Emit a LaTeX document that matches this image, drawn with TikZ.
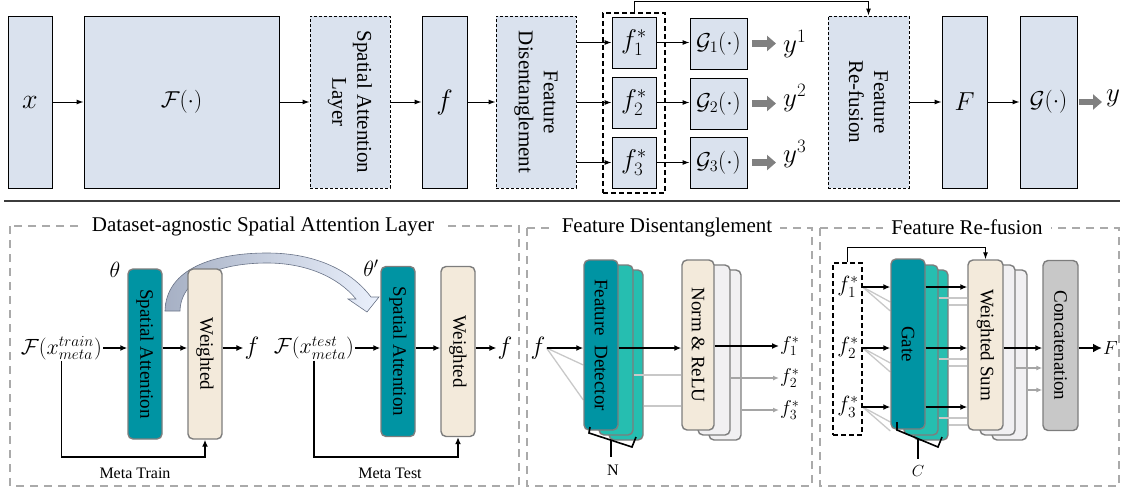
\documentclass[tikz,border=0pt]{standalone}
\usepackage{fix-cm}
\usepackage{fontspec}
\setmainfont{Liberation Serif}
\usetikzlibrary{arrows.meta,calc}
\definecolor{topfill}{RGB}{218,226,238}
\definecolor{tealc}{RGB}{0,148,163}
\definecolor{turq}{RGB}{38,190,176}
\definecolor{beige}{RGB}{243,234,219}
\definecolor{ltgray}{RGB}{241,240,242}
\definecolor{cgray}{RGB}{200,200,200}
\definecolor{boxgray}{RGB}{125,125,125}
\definecolor{panelgray}{RGB}{170,170,170}
\definecolor{lineg}{RGB}{200,200,200}
\definecolor{garrc}{RGB}{165,165,165}
\definecolor{fatgray}{RGB}{128,128,128}
\definecolor{arcL}{RGB}{166,176,196}
\definecolor{arcR}{RGB}{234,240,252}
\definecolor{arcB}{RGB}{105,115,135}
\definecolor{sepc}{RGB}{60,60,60}
\pgfdeclarelayer{bg}
\pgfsetlayers{bg,main}
\begin{document}
\begin{tikzpicture}[x=1pt,y=-1pt,
 tbox/.style={draw=black, line width=0.9pt, fill=topfill, inner sep=0pt},
 tdash/.style={tbox, dash pattern=on 3pt off 2pt},
 arr/.style={-{Latex[length=7pt,width=5pt]}, line width=1pt},
 fat/.style={-{Triangle[length=9pt,width=15pt]}, line width=6.5pt, draw=fatgray},
 rbox/.style={draw=boxgray, line width=1.4pt, rounded corners=5pt, inner sep=0pt, minimum width=34pt, minimum height=170pt},
 panel/.style={draw=panelgray, line width=1.4pt, dash pattern=on 8pt off 6pt},
 ptitle/.style={fill=white, inner xsep=8pt, inner ysep=2pt, font=\fontsize{21}{25}\selectfont},
 barr/.style={-{Latex[length=7pt,width=6pt]}, line width=1.5pt},
 gline/.style={draw=lineg, line width=1.3pt},
 garr/.style={-{Latex[length=6pt,width=5pt]}, draw=garrc, line width=1.3pt},
 ttxt/.style={font=\fontsize{21}{25}\selectfont, align=center, rotate=-90},
 btxt/.style={font=\fontsize{19}{22}\selectfont, rotate=-90},
 tm/.style={font=\fontsize{23}{27}\selectfont},
 tl/.style={font=\fontsize{28}{32}\selectfont},
 bm/.style={font=\fontsize{22}{26}\selectfont, inner sep=1pt},
 om/.style={font=\fontsize{20}{24}\selectfont, inner sep=0pt},
 bl/.style={font=\fontsize{25}{29}\selectfont, inner sep=1pt},
 small/.style={font=\fontsize{16}{19}\selectfont},
 brk/.style={line width=1.6pt, draw=black},
]
\useasboundingbox (0,0) rectangle (1124,490);

% ---------------- top row ----------------
\node[tbox, minimum width=44pt, minimum height=172pt, tl] (xb) at (30,102) {$x$};
\node[tbox, minimum width=195pt, minimum height=172pt, tm] (Fb) at (181.5,102) {$\mathcal{F}(\cdot)$};
\node[tdash, minimum width=80pt, minimum height=172pt] (SAL) at (350,102) {};
\node[ttxt] (SALt) at (SAL) {Spatial Attention\\Layer};
\node[tbox, minimum width=45pt, minimum height=172pt, tl] (fb) at (444.5,102) {$f$};
\node[tdash, minimum width=80pt, minimum height=172pt] (FDt) at (536,102) {};
\node[ttxt] (FDtt) at (FDt) {Feature\\Disentanglement};
\node[draw, line width=1.2pt, dash pattern=on 5pt off 3pt, minimum width=62pt, minimum height=180pt, inner sep=0pt] (grp) at (634,103) {};
\node[tbox, minimum width=44pt, minimum height=51pt, font=\fontsize{27}{31}\selectfont] (f1) at (634,42.5) {$f_1^*$};
\node[tbox, minimum width=44pt, minimum height=51pt, font=\fontsize{27}{31}\selectfont] (f2) at (634,102.5) {$f_2^*$};
\node[tbox, minimum width=44pt, minimum height=51pt, font=\fontsize{27}{31}\selectfont] (f3) at (634,162.5) {$f_3^*$};
\node[tbox, minimum width=57pt, minimum height=51pt, tm] (G1) at (718.5,43.5) {$\mathcal{G}_1(\cdot)$};
\node[tbox, minimum width=57pt, minimum height=51pt, tm] (G2) at (718.5,103.5) {$\mathcal{G}_2(\cdot)$};
\node[tbox, minimum width=57pt, minimum height=51pt, tm] (G3) at (718.5,162.5) {$\mathcal{G}_3(\cdot)$};
\node[font=\fontsize{27}{31}\selectfont, anchor=west, inner sep=1pt] (y1) at (782,44) {$y^1$};
\node[font=\fontsize{27}{31}\selectfont, anchor=west, inner sep=1pt] (y2) at (782,98) {$y^2$};
\node[font=\fontsize{27}{31}\selectfont, anchor=west, inner sep=1pt] (y3) at (782,154) {$y^3$};
\node[tdash, minimum width=81pt, minimum height=172pt] (FR) at (868.5,102) {};
\node[ttxt] (FRt) at (FR) {Feature\\Re-fusion};
\node[tbox, minimum width=45pt, minimum height=172pt, font=\fontsize{26}{30}\selectfont] (Fbig) at (964.5,102) {$F$};
\node[tbox, minimum width=57pt, minimum height=172pt, tm] (Gbig) at (1048.5,102) {$\mathcal{G}(\cdot)$};
\node[font=\fontsize{27}{31}\selectfont, anchor=west, inner sep=1pt] (yout) at (1105,98) {$y$};

\draw[arr] (xb) -- (Fb);
\draw[arr] (Fb) -- (SAL);
\draw[arr] (SAL) -- (fb);
\draw[arr] (fb) -- (FDt);
\draw[arr] (FDt.east |- f1) -- (f1);
\draw[arr] (FDt.east |- f2) -- (f2);
\draw[arr] (FDt.east |- f3) -- (f3);
\draw[arr] (f1) -- (G1.west |- f1);
\draw[arr] (f2) -- (G2.west |- f2);
\draw[arr] (f3) -- (G3.west |- f3);
\draw[fat, shorten <=5pt, shorten >=6pt] (G1.east) -- (G1.east -| y1.west);
\draw[fat, shorten <=5pt, shorten >=6pt] (G2.east) -- (G2.east -| y2.west);
\draw[fat, shorten <=5pt, shorten >=6pt] (G3.east) -- (G3.east -| y3.west);
\draw[arr] (grp.north) -- ++(0,-11) -| (FR.north);
\draw[arr] (FR) -- (Fbig);
\draw[arr] (Fbig) -- (Gbig);
\draw[fat, shorten <=2pt, shorten >=3pt] (Gbig.east) -- (Gbig.east -| yout.west);

\draw[draw=sepc, line width=1.3pt] (4,201) -- (1120,201);

% ---------------- panel 1 ----------------
\draw[panel] (10,226) rectangle (519,486);
\node[ptitle] (T1) at (263,226) {Dataset-agnostic Spatial Attention Layer};

\path[draw=arcB, line width=0.6pt, left color=arcL, right color=arcR]
 (165,311) .. controls (166,268) and (215,253) .. (267,253)
 .. controls (318,253) and (352,272) .. (371,297)
 -- (379,297) -- (367,312) -- (348,299) -- (356,299)
 .. controls (338,277) and (306,263) .. (267,263)
 .. controls (226,263) and (181,275) .. (180,311) -- cycle;

\node[rbox, fill=tealc] (SA1) at (145,354) {};
\node[btxt] (SA1t) at (SA1) {Spatial Attention};
\node[rbox, fill=beige] (W1) at (205,354) {};
\node[btxt] (W1t) at (W1) {Weighted};
\node[bm] (th1) at (115,270) {$\theta$};
\node[bm, anchor=east] (Ftr) at (103,348) {$\mathcal{F}(x^{train}_{meta})$};
\node[bl] (fo1) at (252,348) {$f$};
\draw[barr] (Ftr.east) -- (SA1.west |- Ftr.east);
\draw[barr] (SA1.east |- Ftr.east) -- (W1.west |- Ftr.east);
\draw[barr] (W1.east |- Ftr.east) -- (fo1.west);
\coordinate (mt) at (0,457);
\draw[barr] (Ftr.south) |- (W1.south |- mt) -- (W1.south);
\node[small] (mtl1) at (135,473) {Meta Train};

\node[rbox, fill=tealc] (SA2) at (398,351.5) {};
\node[btxt] (SA2t) at (SA2) {Spatial Attention};
\node[rbox, fill=beige] (W2) at (458,351.5) {};
\node[btxt] (W2t) at (W2) {Weighted};
\node[bm] (th2) at (371,268) {$\theta'$};
\node[bm, anchor=east] (Fte) at (355,348) {$\mathcal{F}(x^{test}_{meta})$};
\node[bl] (fo2) at (505,348) {$f$};
\draw[barr] (Fte.east) -- (SA2.west |- Fte.east);
\draw[barr] (SA2.east |- Fte.east) -- (W2.west |- Fte.east);
\draw[barr] (W2.east |- Fte.east) -- (fo2.west);
\draw[barr] (Fte.south) |- (W2.south |- mt) -- (W2.south);
\node[small] (mtl2) at (390,473) {Meta Test};

% ---------------- panel 2 ----------------
\draw[panel] (527,228) rectangle (812,486);
\node[ptitle] (T2) at (667,227) {Feature Disentanglement};
\node[rbox, fill=turq] (FD3) at (626,355) {};
\node[rbox, fill=turq] (FD2) at (616,350) {};
\node[rbox, fill=tealc] (FD1) at (601,345) {};
\node[btxt] (FD1t) at (FD1) {Feature\ \ Detector};
\node[bl] (fin) at (538,348) {$f$};
\begin{pgfonlayer}{bg}
\draw[gline] (fin.east) -- ($(FD1.west)+(0,20)$);
\draw[gline] (fin.east) -- ($(FD1.west)+(0,55)$);
\end{pgfonlayer}
\draw[barr] (fin.east) -- (FD1.west |- fin.east);

\node[rbox, fill=ltgray, minimum width=32pt] (NR3) at (725,355) {};
\node[rbox, fill=ltgray, minimum width=32pt] (NR2) at (714,350) {};
\node[rbox, fill=beige, minimum width=32pt] (NR1) at (698,345) {};
\node[btxt] (NR1t) at (NR1) {Norm \& ReLU};
\draw[barr] (FD1.east |- fin.east) -- (NR1.west |- fin.east);
\draw[gline] ($(FD2.east)+(0,25)$) coordinate (g1) -- (NR1.west |- g1);
\draw[gline] ($(FD3.east)+(0,51)$) coordinate (g2) -- (NR1.west |- g2);
\node[om, anchor=west] (o1) at (780,346) {$f_1^*$};
\node[om, anchor=west] (o2) at (780,378) {$f_2^*$};
\node[om, anchor=west] (o3) at (780,410) {$f_3^*$};
\draw[barr] (NR1.east |- o1.west) -- ([xshift=-1pt]o1.west);
\draw[garr] (NR2.east |- o2.west) -- ([xshift=-1pt]o2.west);
\draw[garr] (NR3.east |- o3.west) -- ([xshift=-1pt]o3.west);
\draw[brk] (590,427) -- (589,433) -- (632,447) -- (636,437);
\draw[brk] (611,440) -- (611,457);
\node[small] (Nl) at (613,470) {N};

% ---------------- panel 3 ----------------
\draw[panel] (820,228) rectangle (1119,486);
\node[ptitle] (T3) at (967,227) {Feature Re-fusion};
\node[draw, line width=1.3pt, dash pattern=on 5pt off 3pt, minimum width=29pt, minimum height=172pt, inner sep=0pt] (fg) at (847.5,349) {};
\node[bm] (r1) at (848,287) {$f_1^*$};
\node[bm] (r2) at (848,348) {$f_2^*$};
\node[bm] (r3) at (848,407) {$f_3^*$};
\node[rbox, fill=turq] (Gt3) at (931,355) {};
\node[rbox, fill=turq] (Gt2) at (921,350) {};
\node[rbox, fill=tealc] (Gt1) at (908,344) {};
\node[btxt] (Gt1t) at (Gt1) {Gate};
\begin{pgfonlayer}{bg}
\foreach \r in {r1,r2,r3}{
 \draw[gline] (fg.east |- \r) -- ($(Gt1.west |- \r)+(0,15)$);
 \draw[gline] (fg.east |- \r) -- ($(Gt1.west |- \r)+(0,24)$);
}
\end{pgfonlayer}
\node[rbox, fill=ltgray, minimum width=35pt] (WS3) at (1009.5,355) {};
\node[rbox, fill=ltgray, minimum width=35pt] (WS2) at (997.5,350) {};
\node[rbox, fill=beige, minimum width=35pt] (WS1) at (985.5,345) {};
\node[btxt] (WS1t) at (WS1) {Weighted Sum};
\foreach \r in {r1,r2,r3}{
 \draw[barr] (fg.east |- \r) -- (Gt1.west |- \r);
 \draw[gline] ($(Gt2.east |- \r)+(0,11)$) coordinate (h1) -- (WS1.west |- h1);
 \draw[gline] ($(Gt3.east |- \r)+(0,18)$) coordinate (h2) -- (WS1.west |- h2);
 \draw[barr] (Gt1.east |- \r) -- (WS1.west |- \r);
}
\draw[arr] (fg.north) -- ++(0,-15) -| (WS1.north);
\node[rbox, fill=cgray, minimum width=35pt] (CC) at (1060.5,345.5) {};
\node[btxt] (CCt) at (CC) {Concatenation};
\draw[barr] (WS1.east |- r2) -- (CC.west |- r2);
\draw[garr] ($(WS2.east)+(0,18)$) coordinate (q1) -- (CC.west |- q1);
\draw[garr] ($(WS3.east)+(0,35)$) coordinate (q2) -- (CC.west |- q2);
\node[font=\fontsize{19}{23}\selectfont, anchor=west, inner sep=1pt] (Fo) at (1102,348) {$F$};
\draw[-{Latex[length=9pt,width=9pt]}, line width=2.5pt] (CC.east |- Fo.west) -- (Fo.west);
\draw[brk] (897,422) -- (897,430) -- (938,447) -- (942,437);
\draw[brk] (918,439) -- (918,459);
\node[small] (Cl) at (918,471) {$C$};
\end{tikzpicture}
\end{document}
